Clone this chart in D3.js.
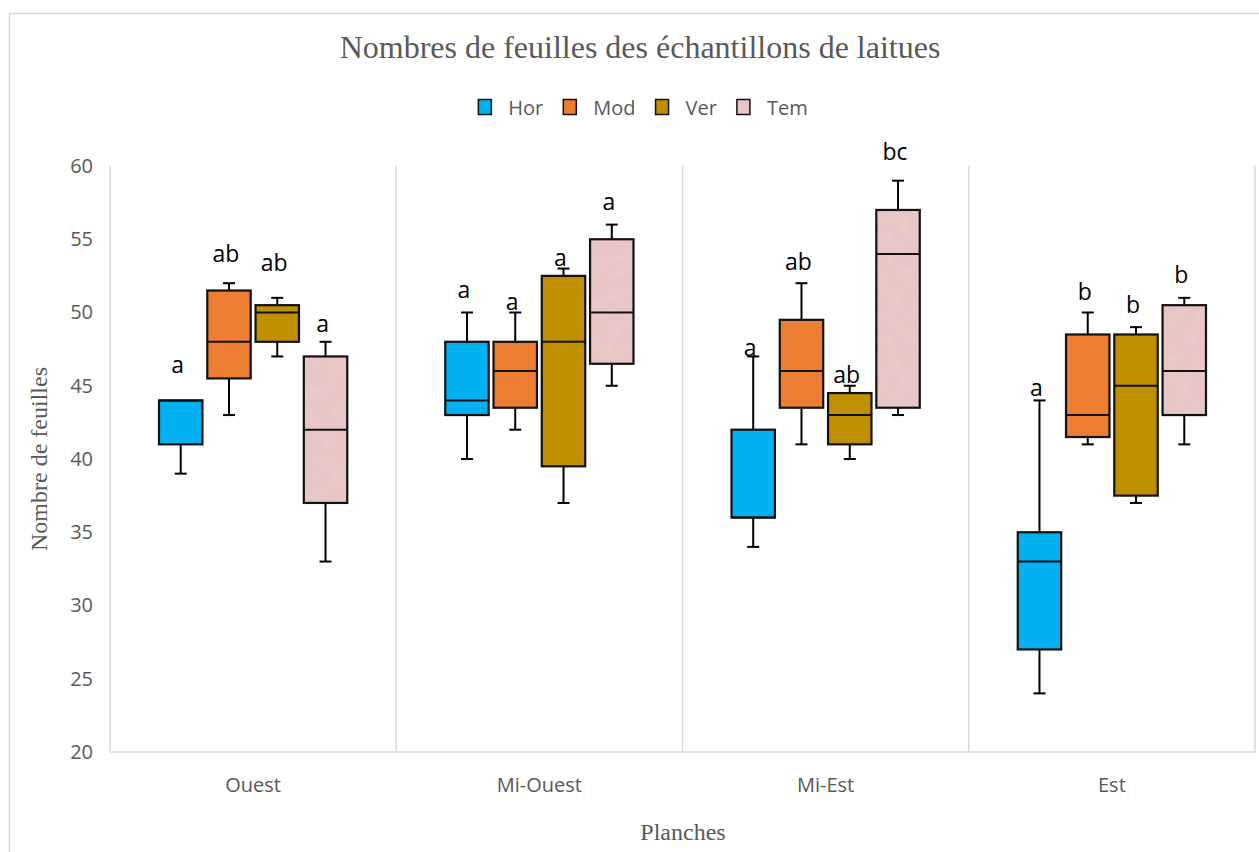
<!DOCTYPE html>
<html>
<head>
<meta charset="utf-8">
<script src="https://cdn.jsdelivr.net/npm/d3@7"></script>
<style>
  html, body { margin: 0; padding: 0; background: #fff; }
  svg { display: block; }
</style>
</head>
<body>
<svg id="chart" width="1259" height="852"></svg>
<script>
// Planting rows (x categories) and treatments (series)
const categories = ["Ouest", "Mi-Ouest", "Mi-Est", "Est"];
const series = ["Hor", "Mod", "Ver", "Tem"];
const yTicks = [20, 25, 30, 35, 40, 45, 50, 55, 60];

// Box statistics per row: [min, Q1, median, Q3, max]
const horStats = [[39, 41, 44, 44, 44], [40, 43, 44, 48, 50], [34, 36, 36, 42, 47], [24, 27, 33, 35, 44]];
const modStats = [[43, 45.5, 48, 51.5, 52], [42, 43.5, 46, 48, 50], [41, 43.5, 46, 49.5, 52], [41, 41.5, 43, 48.5, 50]];
const verStats = [[47, 48, 50, 50.5, 51], [37, 39.5, 48, 52.5, 53], [40, 41, 43, 44.5, 45], [37, 37.5, 45, 48.5, 49]];
const temStats = [[33, 37, 42, 47, 48], [45, 46.5, 50, 55, 56], [43, 43.5, 54, 57, 59], [41, 43, 46, 50.5, 51]];

// Significance letters and the value level of their baseline
const horLetters = ["a", "a", "a", "a"];
const modLetters = ["ab", "a", "ab", "b"];
const verLetters = ["ab", "a", "ab", "b"];
const temLetters = ["a", "a", "bc", "b"];
const horLetterAt = [45.9, 51.0, 47.05, 44.3];
const modLetterAt = [53.45, 50.2, 52.9, 50.85];
const verLetterAt = [52.8, 53.2, 45.2, 49.95];
const temLetterAt = [48.7, 57.0, 60.4, 52.0];

const seriesColors = ["#00b0f0", "#ed7d31", "#bf8f00", "#e8c4c4"];

const statsBySeries = [horStats, modStats, verStats, temStats];
const lettersBySeries = [horLetters, modLetters, verLetters, temLetters];
const letterAtBySeries = [horLetterAt, modLetterAt, verLetterAt, temLetterAt];

const boxes = [];
series.forEach((s, si) => {
  categories.forEach((c, ci) => {
    const [min, q1, med, q3, max] = statsBySeries[si][ci];
    boxes.push({ series: s, si, category: c, min, q1, med, q3, max,
                 letter: lettersBySeries[si][ci], letterAt: letterAtBySeries[si][ci] });
  });
});

const svg = d3.select("#chart");
const W = 1259, H = 852;
const plot = { left: 110, right: 1255, top: 166, bottom: 752 };
const sans = "'Open Sans', 'Noto Sans', sans-serif";
const serif = "'Liberation Serif', 'DejaVu Serif', serif";
const grey = "#595959";
const lineGrey = "#d9d9d9";

// Outer chart frame
svg.append("rect")
  .attr("x", 9.5).attr("y", 13.5)
  .attr("width", W + 10).attr("height", H + 10)
  .attr("fill", "none").attr("stroke", lineGrey).attr("stroke-width", 1.5);

// Mottled texture for the Tem boxes
const defs = svg.append("defs");
const f = defs.append("filter").attr("id", "mottle")
  .attr("x", 0).attr("y", 0).attr("width", 1).attr("height", 1);
f.append("feTurbulence").attr("type", "fractalNoise")
  .attr("baseFrequency", 0.09).attr("numOctaves", 3).attr("seed", 7).attr("result", "n");
f.append("feColorMatrix").attr("in", "n").attr("type", "matrix")
  .attr("values", "0 0 0 0 0.80  0 0 0 0 0.62  0 0 0 0 0.62  1.0 0 0 0 -0.32")
  .attr("result", "tint");
f.append("feComposite").attr("in", "tint").attr("in2", "SourceGraphic")
  .attr("operator", "in").attr("result", "t2");
const fm = f.append("feMerge");
fm.append("feMergeNode").attr("in", "SourceGraphic");
fm.append("feMergeNode").attr("in", "t2");

// Scales
const x = d3.scaleBand().domain(categories).range([plot.left, plot.right]);
const xInner = d3.scaleBand().domain(series)
  .range([49, x.bandwidth() - 49]).paddingInner(0.1);
const y = d3.scaleLinear().domain([20, 60]).range([plot.bottom, plot.top]);

// Plot area frame: left, right, bottom lines and row separators
const frame = svg.append("g").attr("stroke", lineGrey).attr("stroke-width", 1.5);
frame.append("line").attr("x1", plot.left).attr("x2", plot.left)
  .attr("y1", plot.top).attr("y2", plot.bottom);
frame.append("line").attr("x1", plot.right).attr("x2", plot.right)
  .attr("y1", plot.top).attr("y2", plot.bottom);
frame.append("line").attr("x1", plot.left).attr("x2", plot.right)
  .attr("y1", plot.bottom).attr("y2", plot.bottom);
frame.selectAll("line.sep").data(categories.slice(1)).join("line")
  .attr("class", "sep")
  .attr("x1", d => x(d)).attr("x2", d => x(d))
  .attr("y1", plot.top).attr("y2", plot.bottom);

// Y axis tick labels
const yAxis = d3.axisLeft(y).tickValues(yTicks).tickSize(0).tickPadding(17);
const gy = svg.append("g").attr("transform", `translate(${plot.left},0)`).call(yAxis);
gy.select(".domain").remove();
gy.selectAll("text").attr("font-family", sans).attr("font-size", 20).attr("fill", grey);

// X axis category labels
const xAxis = d3.axisBottom(x).tickSize(0).tickPadding(26);
const gx = svg.append("g").attr("transform", `translate(0,${plot.bottom})`).call(xAxis);
gx.select(".domain").remove();
gx.selectAll("text").attr("font-family", sans).attr("font-size", 20).attr("fill", grey);

// Boxes
const bw = xInner.bandwidth();
const cap = 12;
const g = svg.append("g");
const bx = d => x(d.category) + xInner(d.series);
const cx = d => bx(d) + bw / 2;

const box = g.selectAll("g.box").data(boxes).join("g").attr("class", "box");

// whiskers
box.append("line")
  .attr("x1", cx).attr("x2", cx)
  .attr("y1", d => y(d.max)).attr("y2", d => y(d.q3))
  .attr("stroke", "#000").attr("stroke-width", 2);
box.append("line")
  .attr("x1", cx).attr("x2", cx)
  .attr("y1", d => y(d.q1)).attr("y2", d => y(d.min))
  .attr("stroke", "#000").attr("stroke-width", 2);
box.filter(d => d.max > d.q3).append("line")
  .attr("x1", d => cx(d) - cap / 2).attr("x2", d => cx(d) + cap / 2)
  .attr("y1", d => y(d.max)).attr("y2", d => y(d.max))
  .attr("stroke", "#000").attr("stroke-width", 2);
box.filter(d => d.min < d.q1).append("line")
  .attr("x1", d => cx(d) - cap / 2).attr("x2", d => cx(d) + cap / 2)
  .attr("y1", d => y(d.min)).attr("y2", d => y(d.min))
  .attr("stroke", "#000").attr("stroke-width", 2);

// box fill
box.append("rect")
  .attr("x", bx).attr("width", bw)
  .attr("y", d => y(d.q3)).attr("height", d => y(d.q1) - y(d.q3))
  .attr("fill", d => seriesColors[d.si])
  .attr("filter", d => d.series === "Tem" ? "url(#mottle)" : null);
// box outline
box.append("rect")
  .attr("x", bx).attr("width", bw)
  .attr("y", d => y(d.q3)).attr("height", d => y(d.q1) - y(d.q3))
  .attr("fill", "none").attr("stroke", "#111").attr("stroke-width", 2.2);
// median
box.append("line")
  .attr("x1", bx).attr("x2", d => bx(d) + bw)
  .attr("y1", d => y(d.med)).attr("y2", d => y(d.med))
  .attr("stroke", "#111").attr("stroke-width", 2);

// significance letters
box.append("text")
  .attr("x", d => cx(d) - 3)
  .attr("y", d => y(d.letterAt))
  .attr("text-anchor", "middle")
  .attr("font-family", sans).attr("font-size", 23).attr("fill", "#000")
  .text(d => d.letter);

// Title
svg.append("text")
  .attr("x", 640).attr("y", 58)
  .attr("text-anchor", "middle")
  .attr("font-family", serif).attr("font-size", 32).attr("fill", grey)
  .text("Nombres de feuilles des échantillons de laitues");

// Axis titles
svg.append("text")
  .attr("transform", `translate(47,459) rotate(-90)`)
  .attr("text-anchor", "middle")
  .attr("font-family", serif).attr("font-size", 24).attr("fill", grey)
  .text("Nombre de feuilles");
svg.append("text")
  .attr("x", 683).attr("y", 840)
  .attr("text-anchor", "middle")
  .attr("font-family", serif).attr("font-size", 24).attr("fill", grey)
  .text("Planches");

// Legend
const legend = svg.append("g");
const sw = 13, sh = 15, gapText = 17, gapItem = 20;
let lx = 0;
series.forEach((s, i) => {
  const item = legend.append("g").attr("transform", `translate(${lx},0)`);
  item.append("rect")
    .attr("x", 0).attr("y", -sh / 2 - 1).attr("width", sw).attr("height", sh)
    .attr("fill", seriesColors[i]).attr("stroke", "#111").attr("stroke-width", 1.5);
  const t = item.append("text")
    .attr("x", sw + gapText).attr("y", 0).attr("dy", "0.35em")
    .attr("font-family", sans).attr("font-size", 20).attr("fill", grey)
    .text(s);
  lx += sw + gapText + t.node().getComputedTextLength() + gapItem;
});
const legendW = lx - gapItem;
legend.attr("transform", `translate(${643 - legendW / 2},108)`);
</script>
</body>
</html>
